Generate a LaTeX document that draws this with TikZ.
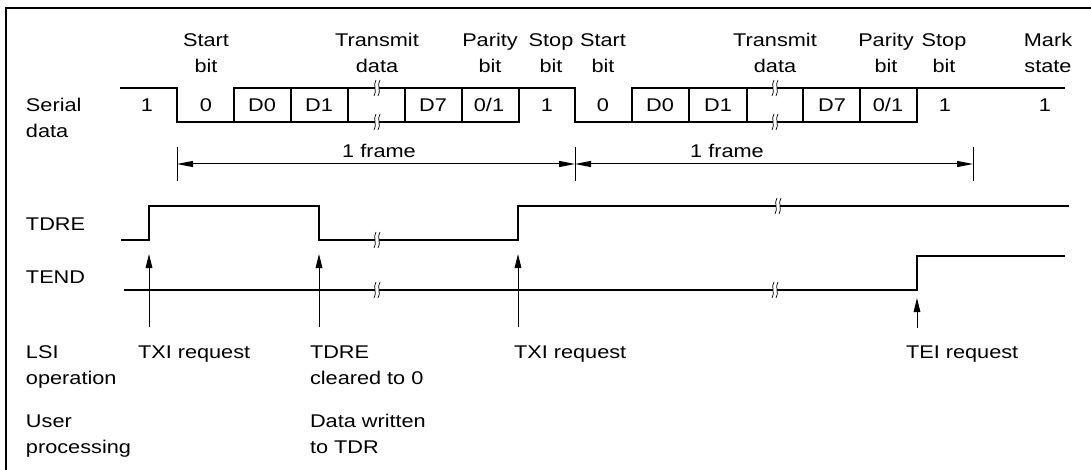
\documentclass[tikz,border=0pt]{standalone}
\usepackage{fontspec}
\setmainfont{Liberation Sans}[FakeStretch=1.18]
\usetikzlibrary{arrows.meta}
\tikzset{
  wave/.style={line width=0.9pt, line join=miter},
  lbl/.style={inner sep=0pt, outer sep=0pt, font=\fontsize{13.8}{19.5}\selectfont},
  lblc/.style={lbl, align=center, anchor=base},
  lbll/.style={lbl, align=left, anchor=base west},
  dimarrow/.style={line width=0.75pt, {Triangle[length=12pt,width=4.5pt]}-{Triangle[length=12pt,width=4.5pt]}},
  evarrow/.style={line width=0.75pt, -{Triangle[length=10.5pt,width=5pt]}},
  tickline/.style={line width=0.75pt},
  brk/.pic={
    \fill[white] (-2,-3) rectangle (2,3);
    \draw[line width=0.55pt] (-1,-8) .. controls (-4.5,-3) and (0.5,3) .. (-3,8);
    \draw[line width=0.55pt] (3,-8) .. controls (-0.5,-3) and (4.5,3) .. (1,8);
  }
}
\begin{document}
\begin{tikzpicture}[x=0.75pt,y=-0.75pt]
\useasboundingbox (0,0) rectangle (1091,470);
% border
\draw[line width=0.9pt] (6,470) -- (6,8) -- (1091,8);

% ---------- serial data waveform ----------
\draw[wave] (120,88) -- (177,88) -- (177,122) -- (519,122) -- (519,88) -- (575,88) -- (575,122) -- (917,122) -- (917,88) -- (1065,88);
\draw[wave] (234,122) -- (234,88) -- (519,88);
\draw[wave] (632,122) -- (632,88) -- (917,88);
\foreach \xx in {291,348,405,462,689,747,803,860}
  \draw[wave] (\xx,88) -- (\xx,122);
\pic at (377,88) {brk};
\pic at (377,122) {brk};
\pic at (775,88) {brk};
\pic at (775,122) {brk};

% ---------- top labels (anchored at the baseline of their last line) ----------
\node[lblc] (sb1) at (206,73) {Start\\bit};
\node[lblc] (td1) at (377,73) {Transmit\\data};
\node[lblc] (pb1) at (490,73) {Parity\\bit};
\node[lblc] (st1) at (551,73) {Stop\\bit};
\node[lblc] (sb2) at (603,73) {Start\\bit};
\node[lblc] (td2) at (775,73) {Transmit\\data};
\node[lblc] (pb2) at (886,73) {Parity\\bit};
\node[lblc] (st2) at (944,73) {Stop\\bit};
\node[lblc] (ms) at (1048,73) {Mark\\state};

% ---------- bit values ----------
\node[lblc] (v1) at (147,112) {1};
\node[lblc] (v2) at (206,112) {0};
\node[lblc] (v3) at (262,112) {D0};
\node[lblc] (v4) at (319,112) {D1};
\node[lblc] (v5) at (433,112) {D7};
\node[lblc] (v6) at (489,112) {0/1};
\node[lblc] (v7) at (547,112) {1};
\node[lblc] (w2) at (603,112) {0};
\node[lblc] (w3) at (660,112) {D0};
\node[lblc] (w4) at (718,112) {D1};
\node[lblc] (w5) at (832,112) {D7};
\node[lblc] (w6) at (888,112) {0/1};
\node[lblc] (w7) at (945,112) {1};
\node[lblc] (w8) at (1045,112) {1};

% ---------- frame dimension ----------
\coordinate (f0) at (177,164);
\coordinate (f1) at (575,164);
\coordinate (f2) at (973,164);
\coordinate (f0t) at (177,147); \coordinate (f0b) at (177,181);
\coordinate (f1t) at (575,147); \coordinate (f1b) at (575,181);
\coordinate (f2t) at (973,147); \coordinate (f2b) at (973,181);
\draw[tickline] (f0t) -- (f0b);
\draw[tickline] (f1t) -- (f1b);
\draw[tickline] (f2t) -- (f2b);
\draw[dimarrow] (f0) -- (f1);
\draw[dimarrow] (f1) -- (f2);
\node[lblc] (fr1) at (379,158) {1 frame};
\node[lblc] (fr2) at (727,158) {1 frame};

% ---------- TDRE ----------
\draw[wave] (121,240) -- (149,240) -- (149,206) -- (319,206) -- (319,240) -- (518,240) -- (518,206) -- (1069,206);
\pic at (377,240) {brk};
\pic at (778,206) {brk};

% ---------- TEND ----------
\draw[wave] (124,290) -- (917,290) -- (917,256) -- (1065,256);
\pic at (377,290) {brk};
\pic at (775,290) {brk};

% ---------- event arrows ----------
\coordinate (e1b) at (149,327); \coordinate (e1t) at (149,254);
\coordinate (e2b) at (319,327); \coordinate (e2t) at (319,254);
\coordinate (e3b) at (518,327); \coordinate (e3t) at (518,254);
\coordinate (e4b) at (917,328); \coordinate (e4t) at (917,298);
\draw[evarrow] (e1b) -- (e1t);
\draw[evarrow] (e2b) -- (e2t);
\draw[evarrow] (e3b) -- (e3t);
\draw[evarrow] (e4b) -- (e4t);

% ---------- left labels ----------
\node[lbll] (lser) at (26,138) {Serial\\data};
\node[lbll] (ltdre) at (26,230) {TDRE};
\node[lbll] (ltend) at (26,283) {TEND};
\node[lbll] (llsi) at (26,384) {LSI\\operation};
\node[lbll] (luser) at (26,453) {User\\processing};

% ---------- bottom labels ----------
\node[lbll] (b1) at (138,358) {TXI request};
\node[lbll] (b2) at (310,384) {TDRE\\cleared to 0};
\node[lbll] (b3) at (514,358) {TXI request};
\node[lbll] (b4) at (906,358) {TEI request};
\node[lbll] (b5) at (310,453) {Data written\\to TDR};
\end{tikzpicture}
\end{document}
